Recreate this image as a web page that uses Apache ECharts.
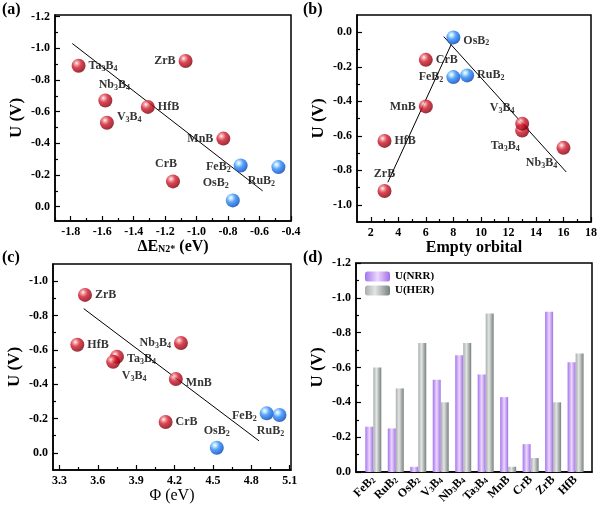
<!DOCTYPE html>
<html><head><meta charset="utf-8">
<script src="https://cdn.jsdelivr.net/npm/echarts@6/dist/echarts.min.js"></script>
<style>html,body{margin:0;padding:0;background:#fff}#c{width:600px;height:507px}</style>
</head><body><div id="c"></div>
<script>
// ---- data ----
const aNames = ['Ta3B4','ZrB','Nb3B4','HfB','V3B4','MnB','FeB2','RuB2','CrB','OsB2'];
const aX = [-1.75,-1.07,-1.58,-1.31,-1.57,-0.83,-0.72,-0.48,-1.15,-0.77];
const aY = [-0.89,-0.92,-0.67,-0.63,-0.53,-0.43,-0.26,-0.25,-0.16,-0.04];
const aLineX = [-1.79,-0.58];
const aLineY = [-1.03,-0.10];

const bNames = ['Ta3B4','ZrB','Nb3B4','HfB','V3B4','MnB','FeB2','RuB2','CrB','OsB2'];
const bX = [13,3,16,3,13,6,8,9,6,8];
const bY = [-0.57,-0.92,-0.67,-0.63,-0.53,-0.43,-0.26,-0.25,-0.16,-0.03];
const bLine1X = [3.24,7.85];
const bLine1Y = [-0.87,-0.07];
const bLine2X = [7.3,16.2];
const bLine2Y = [-0.025,-0.81];

const cNames = ['Ta3B4','ZrB','Nb3B4','HfB','V3B4','MnB','FeB2','RuB2','CrB','OsB2'];
const cX = [3.75,3.50,4.25,3.44,3.72,4.21,4.92,5.02,4.13,4.53];
const cY = [-0.56,-0.92,-0.64,-0.63,-0.53,-0.43,-0.23,-0.22,-0.18,-0.03];
const cLineX = [3.49,4.86];
const cLineY = [-0.84,-0.07];

const dCats = ['FeB2','RuB2','OsB2','V3B4','Nb3B4','Ta3B4','MnB','CrB','ZrB','HfB'];
const dNRR = [-0.26,-0.25,-0.03,-0.53,-0.67,-0.56,-0.43,-0.16,-0.92,-0.63];
const dHER = [-0.60,-0.48,-0.74,-0.40,-0.74,-0.91,-0.03,-0.08,-0.40,-0.68];

const blueSet = ['FeB2','RuB2','OsB2'];

// tick labels
const aXTicks = [-1.8,-1.6,-1.4,-1.2,-1.0,-0.8,-0.6,-0.4];
const aYTicks = [-1.2,-1.0,-0.8,-0.6,-0.4,-0.2,0.0];
const bXTicks = [2,4,6,8,10,12,14,16,18];
const bYTicks = [0.0,-0.2,-0.4,-0.6,-0.8,-1.0];
const cXTicks = [3.3,3.6,3.9,4.2,4.5,4.8,5.1];
const cYTicks = [-1.0,-0.8,-0.6,-0.4,-0.2,0.0];
const dYTicks = [-1.2,-1.0,-0.8,-0.6,-0.4,-0.2,0.0];

// ---- styles ----
const FF = '"Liberation Serif","Times New Roman",serif';
function chem(s){ return s.replace(/(\d)/g,'{s|$1}'); }
function mids(t){ const r=[]; for(let i=0;i<t.length-1;i++) r.push(Math.round((t[i]+t[i+1])/2*1000)/1000); return r; }
const redBall = {type:'radial',x:0.36,y:0.32,r:0.72,colorStops:[
  {offset:0,color:'#ffffff'},{offset:0.18,color:'#f08a90'},{offset:0.45,color:'#d0182a'},{offset:0.8,color:'#a00010'},{offset:1,color:'#6a0008'}]};
const blueBall = {type:'radial',x:0.36,y:0.32,r:0.72,colorStops:[
  {offset:0,color:'#ffffff'},{offset:0.18,color:'#a8dcff'},{offset:0.45,color:'#2f8cf4'},{offset:0.8,color:'#0b5ad8'},{offset:1,color:'#07399a'}]};
const subRich = {s:{fontSize:8,fontWeight:'bold',fontFamily:FF,color:'#000',verticalAlign:'bottom',lineHeight:11}};

const xAxes=[], yAxes=[], grids=[], series=[];

function addGrid(g){ grids.push(Object.assign({show:true,borderColor:'#000',borderWidth:1.5,backgroundColor:'transparent',containLabel:false},g)); return grids.length-1; }

function addAxis(list, gi, pos, cfg){
  const main = {
    type:'value', gridIndex:gi, position:pos, min:cfg.min, max:cfg.max, inverse:!!cfg.inverse,
    axisLine:{show:true,onZero:false,lineStyle:{color:'#000',width:1.5}},
    axisTick:{show:cfg.noTicks?false:true,inside:true,length:5,customValues:cfg.ticks,lineStyle:{color:'#000',width:1.2}},
    axisLabel:{show:true,customValues:cfg.labelTicks||cfg.ticks,formatter:cfg.formatter||(v=>Number(v).toFixed(cfg.dec==null?1:cfg.dec)),
      fontFamily:FF,fontWeight:'bold',fontSize:cfg.fontSize||12,color:'#000',margin:cfg.margin||5,rotate:cfg.rotate||0,rich:subRich},
    splitLine:{show:false},
    name:cfg.name||'', nameLocation:'middle', nameGap:cfg.nameGap||20,
    nameTextStyle:Object.assign({fontFamily:FF,fontWeight:'bold',fontSize:16,color:'#000',rich:{s:{fontSize:10,fontWeight:'bold',fontFamily:FF,verticalAlign:'bottom',lineHeight:13}}},cfg.nameStyle||{})
  };
  list.push(main);
  const idx = list.length-1;
  if(cfg.minor){
    list.push({type:'value',gridIndex:gi,position:pos,min:cfg.min,max:cfg.max,inverse:!!cfg.inverse,
      axisLine:{show:false,onZero:false},axisLabel:{show:false},splitLine:{show:false},
      axisTick:{show:true,inside:true,length:3,customValues:cfg.minor,lineStyle:{color:'#000',width:1.2}}});
  }
  return idx;
}

function scatterPanel(xi, yi, names, xs, ys, labelCfg){
  series.push({type:'scatter',xAxisIndex:xi,yAxisIndex:yi,symbolSize:14,z:5,
    data:names.map((n,i)=>({name:n,value:[xs[i],ys[i]],
      itemStyle:{color: blueSet.includes(n)?blueBall:redBall},
      label:Object.assign({position:'right',distance:3},labelCfg[n]||{})})),
    label:{show:true,formatter:p=>chem(p.name),fontFamily:FF,fontWeight:'bold',fontSize:12,color:'#000',lineHeight:14,rich:subRich},
    emphasis:{disabled:true}});
}
function linePanel(xi, yi, xs, ys){
  series.push({type:'line',xAxisIndex:xi,yAxisIndex:yi,symbol:'none',z:3,silent:true,
    lineStyle:{color:'#000',width:1},data:xs.map((x,i)=>[x,ys[i]])});
}

// ---- panel (a) ----
const ga = addGrid({left:55,top:15,width:236,height:206});
const ax = addAxis(xAxes, ga, 'bottom', {min:-1.9,max:-0.4,ticks:aXTicks,minor:mids([-2.0].concat(aXTicks)),
  name:'ΔE{s|N2*} (eV)',nameGap:14});
const ay = addAxis(yAxes, ga, 'left', {min:-1.21,max:0.09,inverse:true,ticks:aYTicks,minor:mids(aYTicks),
  name:'U (V)',nameGap:30,nameStyle:{fontSize:17}});
linePanel(ax, ay, aLineX, aLineY);
scatterPanel(ax, ay, aNames, aX, aY, {
  Ta3B4:{position:'right'}, ZrB:{position:'left'}, Nb3B4:{position:'top',offset:[9,1]},
  HfB:{position:'right'}, V3B4:{position:'right',offset:[0,-6]}, MnB:{position:'left'},
  FeB2:{position:'left',offset:[0,1]}, RuB2:{position:'bottom',offset:[-17,-3]},
  CrB:{position:'top',offset:[-7,0]}, OsB2:{position:'top',offset:[-17,0]}
});

// ---- panel (b) ----
const gb = addGrid({left:357,top:15,width:235,height:207});
const bx = addAxis(xAxes, gb, 'bottom', {min:1,max:18,ticks:bXTicks,minor:mids(bXTicks),dec:0,
  name:'Empty orbital',nameGap:14});
const by = addAxis(yAxes, gb, 'left', {min:-1.1,max:0.1,ticks:bYTicks,minor:mids(bYTicks),
  name:'U (V)',nameGap:30,nameStyle:{fontSize:17}});
linePanel(bx, by, bLine1X, bLine1Y);
linePanel(bx, by, bLine2X, bLine2Y);
scatterPanel(bx, by, bNames, bX, bY, {
  OsB2:{position:'right',offset:[0,3]}, CrB:{position:'right'}, FeB2:{position:'left'}, RuB2:{position:'right'},
  MnB:{position:'left'}, HfB:{position:'right'}, ZrB:{position:'top',offset:[0,0]},
  V3B4:{position:'top',offset:[-20,1]}, Ta3B4:{position:'bottom',offset:[-17,-2]}, Nb3B4:{position:'bottom',offset:[-22,-2]}
});

// ---- panel (c) ----
const gc = addGrid({left:53,top:264,width:238,height:206});
const cx = addAxis(xAxes, gc, 'bottom', {min:3.25,max:5.11,ticks:cXTicks,minor:mids(cXTicks),
  name:'Φ (eV)',nameGap:15,nameStyle:{fontWeight:'normal',fontSize:16}});
const cy = addAxis(yAxes, gc, 'left', {min:-1.1,max:0.1,inverse:true,ticks:cYTicks,minor:mids(cYTicks),
  name:'U (V)',nameGap:30,nameStyle:{fontSize:17}});
linePanel(cx, cy, cLineX, cLineY);
scatterPanel(cx, cy, cNames, cX, cY, {
  ZrB:{position:'right'}, HfB:{position:'right'}, Ta3B4:{position:'right',offset:[0,2]},
  V3B4:{position:'bottom',offset:[21,-3]}, Nb3B4:{position:'left'}, MnB:{position:'right',offset:[0,4]},
  CrB:{position:'right'}, FeB2:{position:'left',offset:[0,3]}, RuB2:{position:'bottom',offset:[-9,-1]},
  OsB2:{position:'top'}
});

// ---- panel (d) ----
const gd = addGrid({left:356,top:263,width:236,height:209});
const dIdx = dCats.map((c,i)=>i);
const dx = addAxis(xAxes, gd, 'bottom', {min:-0.77,max:9.73,ticks:dIdx,noTicks:true,
  formatter:v=>chem(dCats[Math.round(v)]),rotate:45,margin:6,fontSize:12});
const dy = addAxis(yAxes, gd, 'left', {min:-1.2,max:0,inverse:true,ticks:dYTicks,minor:mids(dYTicks),
  name:'U (V)',nameGap:30,nameStyle:{fontSize:17}});
const nrrGrad = {type:'linear',x:0,y:0,x2:1,y2:0,colorStops:[
  {offset:0,color:'#a474ee'},{offset:0.5,color:'#ecd8fc'},{offset:1,color:'#a16fe8'}]};
const herGrad = {type:'linear',x:0,y:0,x2:1,y2:0,colorStops:[
  {offset:0,color:'#a8aeac'},{offset:0.4,color:'#e2e5e4'},{offset:1,color:'#78807e'}]};
series.push({type:'bar',name:'U(NRR)',xAxisIndex:dx,yAxisIndex:dy,barWidth:8,barGap:'0%',
  itemStyle:{color:nrrGrad},data:dNRR.map((v,i)=>[dIdx[i],v])});
series.push({type:'bar',name:'U(HER)',xAxisIndex:dx,yAxisIndex:dy,barWidth:8,barGap:'0%',
  itemStyle:{color:herGrad},data:dHER.map((v,i)=>[dIdx[i],v])});

const chart = echarts.init(document.getElementById('c'),null,{renderer:'canvas'});
chart.setOption({
  animation:false,
  backgroundColor:'#fff',
  grid:grids, xAxis:xAxes, yAxis:yAxes, series:series,
  legend:{left:360,top:266,orient:'vertical',itemWidth:25,itemHeight:10,itemGap:3,
    data:['U(NRR)','U(HER)'],textStyle:{fontFamily:FF,fontWeight:'bold',fontSize:11,color:'#000'},selectedMode:false},
  graphic:[
    {type:'text',left:2,top:2,style:{text:'(a)',font:'bold 16px '+FF,fill:'#000'}},
    {type:'text',left:303,top:2,style:{text:'(b)',font:'bold 16px '+FF,fill:'#000'}},
    {type:'text',left:2,top:250,style:{text:'(c)',font:'bold 16px '+FF,fill:'#000'}},
    {type:'text',left:303,top:250,style:{text:'(d)',font:'bold 16px '+FF,fill:'#000'}}
  ]
});
</script>
</body></html>
